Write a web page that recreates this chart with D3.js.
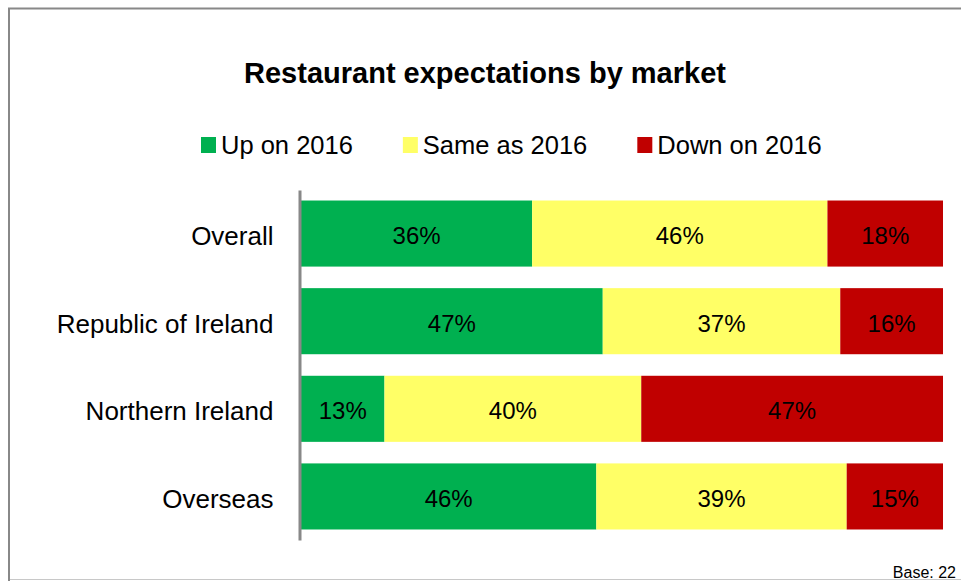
<!DOCTYPE html>
<html>
<head>
<meta charset="utf-8">
<script src="https://cdn.jsdelivr.net/npm/d3@7"></script>
<style>
  body { margin: 0; background: #fff; }
  svg text { font-family: Arial, "Liberation Sans", sans-serif; fill: #000; }
</style>
</head>
<body>
<div id="chart1"></div>
<script>
// data
const markets = ["Overall", "Republic of Ireland", "Northern Ireland", "Overseas"];
const upOn2016 = [36, 47, 13, 46];
const sameAs2016 = [46, 37, 40, 39];
const downOn2016 = [18, 16, 47, 15];
const seriesNames = ["Up on 2016", "Same as 2016", "Down on 2016"];
const seriesColors = ["#00B050", "#FFFF66", "#C00000"];

const W = 961, H = 581;

let svg = d3.select("#chart1").append("svg")
  .attr("width", W)
  .attr("height", H);

// frame
svg.append("rect")
  .attr("x", 8.5).attr("y", 8.5)
  .attr("width", 970).attr("height", 571)
  .attr("fill", "#fff")
  .attr("stroke", "#c8c8c8")
  .attr("stroke-width", 1);
svg.append("path")
  .attr("d", "M9,590 V8.5 H970")
  .attr("fill", "none")
  .attr("stroke", "#888")
  .attr("stroke-width", 2);

// title
svg.append("text")
  .attr("x", 485)
  .attr("y", 83)
  .attr("text-anchor", "middle")
  .style("font-size", "29px")
  .style("font-weight", "bold")
  .text("Restaurant expectations by market");

// stack the rows
let rows = markets.map(function (m, i) {
  return { market: m, "Up on 2016": upOn2016[i], "Same as 2016": sameAs2016[i], "Down on 2016": downOn2016[i] };
});
let stacked = d3.stack().keys(seriesNames)(rows);

let x = d3.scaleLinear().domain([0, 100]).range([301, 943]);
let y = d3.scaleBand().domain(markets).range([190, 540])
  .paddingInner(0.246).paddingOuter(0.12);
let color = d3.scaleOrdinal().domain(seriesNames).range(seriesColors);

let layers = svg.selectAll("g.layer")
  .data(stacked)
  .enter().append("g")
  .attr("class", "layer")
  .attr("fill", function (d) { return color(d.key); });

layers.selectAll("rect")
  .data(function (d) { return d; })
  .enter().append("rect")
  .attr("x", function (d) { return x(d[0]); })
  .attr("y", function (d) { return y(d.data.market); })
  .attr("width", function (d) { return x(d[1]) - x(d[0]); })
  .attr("height", y.bandwidth());

layers.selectAll("text")
  .data(function (d) { return d; })
  .enter().append("text")
  .attr("x", function (d) { return (x(d[0]) + x(d[1])) / 2; })
  .attr("y", function (d) { return y(d.data.market) + y.bandwidth() / 2; })
  .attr("dy", "0.44em")
  .attr("text-anchor", "middle")
  .style("font-size", "24px")
  .text(function (d) { return (d[1] - d[0]) + "%"; });

// category axis
let yAxis = svg.append("g")
  .attr("transform", "translate(299.5,0)")
  .call(d3.axisLeft(y).tickSize(0).tickPadding(26));
yAxis.select(".domain").attr("stroke", "#888").attr("stroke-width", 3);
yAxis.selectAll(".tick text")
  .attr("dy", "0.44em")
  .style("font-size", "26px")
  .attr("fill", "#000")
  .style("font-family", "Arial, 'Liberation Sans', sans-serif");

// legend
let lx = 201;
seriesNames.forEach(function (name, i) {
  let g = svg.append("g").attr("transform", "translate(" + lx + ",137)");
  g.append("rect")
    .attr("width", 15).attr("height", 16)
    .attr("fill", seriesColors[i]);
  let t = g.append("text")
    .attr("x", 20).attr("y", 17)
    .style("font-size", "25.5px")
    .text(name);
  lx += 20 + t.node().getComputedTextLength() + 50;
});

// base note
svg.append("text")
  .attr("x", 956)
  .attr("y", 578)
  .attr("text-anchor", "end")
  .style("font-size", "16px")
  .text("Base: 22");
</script>
</body>
</html>
